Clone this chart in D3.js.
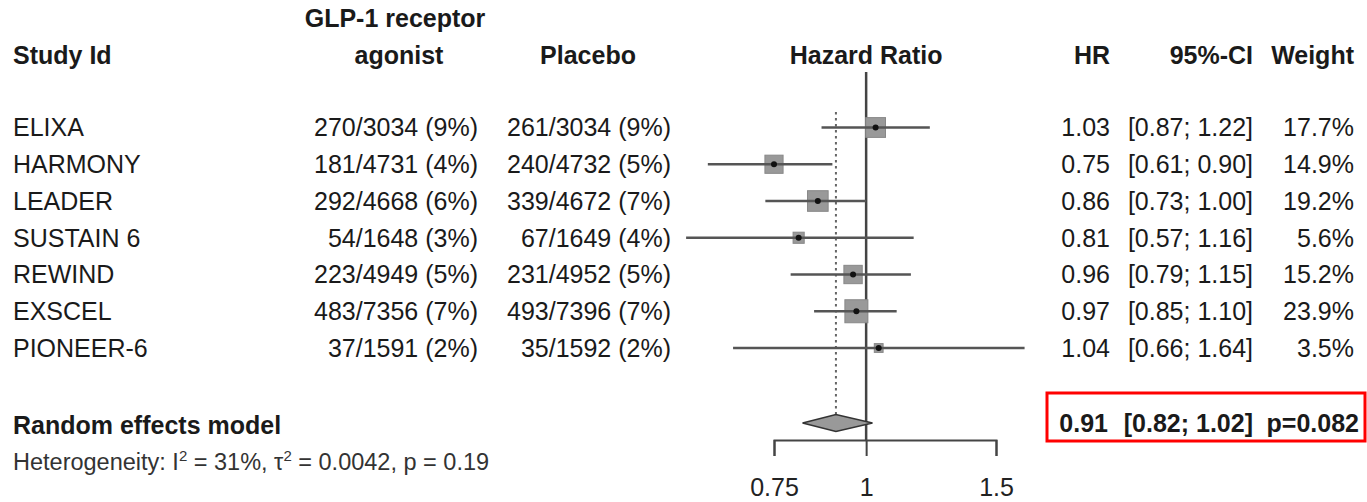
<!DOCTYPE html>
<html>
<head>
<meta charset="utf-8">
<script src="https://cdn.jsdelivr.net/npm/d3@7"></script>
<style>
  body { margin: 0; background: #fff; }
  text { font-family: "Liberation Sans", Arial, Helvetica, sans-serif; fill: #1a1a1a; }
</style>
</head>
<body>
<svg id="chart" width="1367" height="502"></svg>
<script>
// study data
const studies = ["ELIXA", "HARMONY", "LEADER", "SUSTAIN 6", "REWIND", "EXSCEL", "PIONEER-6"];
const agonistEvents = [270, 181, 292, 54, 223, 483, 37];
const agonistTotal = [3034, 4731, 4668, 1648, 4949, 7356, 1591];
const agonistPct = [9, 4, 6, 3, 5, 7, 2];
const placeboEvents = [261, 240, 339, 67, 231, 493, 35];
const placeboTotal = [3034, 4732, 4672, 1649, 4952, 7396, 1592];
const placeboPct = [9, 5, 7, 4, 5, 7, 2];
const hr = [1.03, 0.75, 0.86, 0.81, 0.96, 0.97, 1.04];
const ciLow = [0.87, 0.61, 0.73, 0.57, 0.79, 0.85, 0.66];
const ciHigh = [1.22, 0.90, 1.00, 1.16, 1.15, 1.10, 1.64];
const weight = [17.7, 14.9, 19.2, 5.6, 15.2, 23.9, 3.5];

// pooled (random effects) result
const pooledHR = 0.91;
const pooledLow = 0.82;
const pooledHigh = 1.02;
const pooledP = "0.082";
const hetText = ["Heterogeneity: I", "2", " = 31%, \u03c4", "2", " = 0.0042, p = 0.19"];

const tickVals = [0.75, 1, 1.5];

const svg = d3.select("#chart");
const fmt2 = d3.format(".2f");

// scales
const x = d3.scaleLog().domain([0.75, 1.5]).range([774, 996]);
const y = d3.scalePoint().domain(studies).range([127.5, 348]);
const size = d3.scaleSqrt().domain([0, 23.9]).range([0, 23]);

const rowPooled = 423;
const axisY = 440;
const fs = 25;

function txt(xp, yp, s, anchor, bold, size2) {
    return svg.append("text")
        .attr("x", xp).attr("y", yp)
        .attr("dy", "0.35em")
        .attr("text-anchor", anchor)
        .attr("font-size", size2 || fs)
        .attr("font-weight", bold ? "bold" : "normal")
        .text(s);
}

// column headers
txt(13, 55, "Study Id", "start", true);
txt(395, 18, "GLP-1 receptor", "middle", true);
txt(399, 55, "agonist", "middle", true);
txt(588, 55, "Placebo", "middle", true);
txt(x(1), 55, "Hazard Ratio", "middle", true);
txt(1110, 55, "HR", "end", true);
txt(1253, 55, "95%-CI", "end", true);
txt(1354, 55, "Weight", "end", true);

// reference lines
svg.append("line")
    .attr("x1", x(1)).attr("x2", x(1))
    .attr("y1", 72).attr("y2", axisY)
    .attr("stroke", "#444").attr("stroke-width", 2.5);

svg.append("line")
    .attr("x1", x(pooledHR)).attr("x2", x(pooledHR))
    .attr("y1", 112).attr("y2", rowPooled - 8)
    .attr("stroke", "#666").attr("stroke-width", 2)
    .attr("stroke-dasharray", "2.5,3.5");

// study rows
const rows = svg.selectAll("g.row")
    .data(studies)
    .enter().append("g")
    .attr("class", "row")
    .attr("transform", d => `translate(0,${y(d)})`);

rows.append("text").attr("x", 13).attr("dy", "0.35em").attr("font-size", fs)
    .text(d => d);
rows.append("text").attr("x", 478).attr("dy", "0.35em").attr("font-size", fs)
    .attr("text-anchor", "end")
    .text((d, i) => `${agonistEvents[i]}/${agonistTotal[i]} (${agonistPct[i]}%)`);
rows.append("text").attr("x", 671).attr("dy", "0.35em").attr("font-size", fs)
    .attr("text-anchor", "end")
    .text((d, i) => `${placeboEvents[i]}/${placeboTotal[i]} (${placeboPct[i]}%)`);
rows.append("text").attr("x", 1110).attr("dy", "0.35em").attr("font-size", fs)
    .attr("text-anchor", "end")
    .text((d, i) => fmt2(hr[i]));
rows.append("text").attr("x", 1253).attr("dy", "0.35em").attr("font-size", fs)
    .attr("text-anchor", "end")
    .text((d, i) => `[${fmt2(ciLow[i])}; ${fmt2(ciHigh[i])}]`);
rows.append("text").attr("x", 1354).attr("dy", "0.35em").attr("font-size", fs)
    .attr("text-anchor", "end")
    .text((d, i) => `${weight[i].toFixed(1)}%`);

// squares, CI lines, centre points
rows.append("rect")
    .attr("x", (d, i) => x(hr[i]) - size(weight[i]) / 2)
    .attr("y", (d, i) => -size(weight[i]) / 2)
    .attr("width", (d, i) => size(weight[i]))
    .attr("height", (d, i) => size(weight[i]))
    .attr("fill", "#999").attr("stroke", "#888").attr("stroke-width", 1);
rows.append("line")
    .attr("x1", (d, i) => x(ciLow[i]))
    .attr("x2", (d, i) => x(ciHigh[i]))
    .attr("stroke", "#555").attr("stroke-width", 2.5);
rows.append("circle")
    .attr("cx", (d, i) => x(hr[i]))
    .attr("r", 3)
    .attr("fill", "#111");

// pooled diamond
const dh = 8.5;
svg.append("path")
    .attr("d", `M${x(pooledLow)},${rowPooled}L${x(pooledHR)},${rowPooled - dh}L${x(pooledHigh)},${rowPooled}L${x(pooledHR)},${rowPooled + dh}Z`)
    .attr("fill", "#999").attr("stroke", "#333").attr("stroke-width", 1.5);

txt(13, rowPooled + 2, "Random effects model", "start", true);

// heterogeneity line with superscripts
const het = svg.append("text")
    .attr("x", 13).attr("y", 462).attr("dy", "0.35em")
    .attr("font-size", 23.5).style("fill", "#333");
hetText.forEach((s, i) => {
    const t = het.append("tspan").text(s);
    if (i % 2 === 1) t.attr("font-size", 15).attr("dy", "-9");
    else if (i > 0) t.attr("dy", "9");
});

// pooled result in red box
svg.append("rect")
    .attr("x", 1047).attr("y", 393)
    .attr("width", 318).attr("height", 48)
    .attr("fill", "none").attr("stroke", "#ff0000").attr("stroke-width", 3);
txt(1108, rowPooled, fmt2(pooledHR), "end", true);
txt(1253, rowPooled, `[${fmt2(pooledLow)}; ${fmt2(pooledHigh)}]`, "end", true);
txt(1359, rowPooled, `p=${pooledP}`, "end", true);

// x axis
const axis = svg.append("g")
    .attr("transform", `translate(0,${axisY})`)
    .call(d3.axisBottom(x).tickValues(tickVals).tickSize(16).tickPadding(22)
        .tickFormat(d => d));
axis.selectAll("path, line").attr("stroke", "#444").attr("stroke-width", 2);
axis.selectAll("text").attr("font-size", fs).style("fill", "#222")
    .attr("font-family", "Liberation Sans, Arial, sans-serif");
</script>
</body>
</html>
